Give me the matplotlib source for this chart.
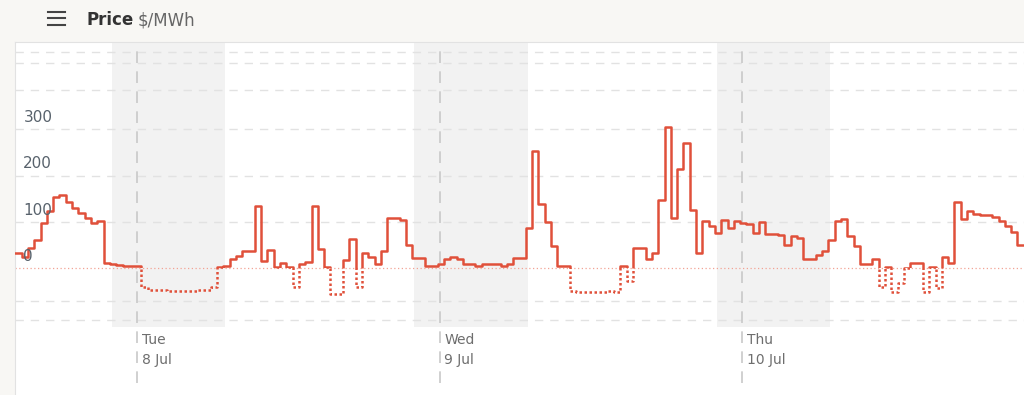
import numpy as np
import matplotlib
matplotlib.use("Agg")
import matplotlib.pyplot as plt
from matplotlib.patches import Rectangle
from matplotlib.lines import Line2D

# half-hourly price, $/MWh, first interval starts ~9.65 h before Tue 00:00
start_hour = -9.65
prices = [
    32, 24, 43, 62, 97, 123, 154, 158, 143, 129, 120, 108, 97, 102,
    12, 10, 7, 4, 4, 4, -40,
    -47, -47, -47, -48, -48, -49, -49, -48, -47, -47, -40,
    3, 4, 20, 26, 37, 37, 134, 15, 39, 3, 11, 3, -41, 9, 14, 134, 41, 3,
    -55, -55, 18, 63, -40, 33, 25, 10, 37, 108, 108, 104, 51, 22, 22,
    4, 4, 10, 20, 25, 20, 9, 9, 4, 9, 9, 9, 4, 9, 23, 23,
    86, 253, 139, 99, 48, 6, 5,
    -49, -50, -51, -50, -52, -50, -49, -50,
    4, -27, 43, 43, 20, 34, 147, 305, 108, 213, 269, 125, 33,
    101, 92, 76, 104, 86, 103, 97, 96, 77, 100, 75, 75, 72, 50, 70, 66,
    20, 20, 28, 38, 60, 103, 106, 70, 49, 10, 10, 21,
    -40, 2, -51, -32, 1, 12, 12, -51, 2, -43, 25, 12,
    143, 106, 123, 118, 115, 115, 111, 103, 91, 79, 50, 50,
]

day_hours = [0, 24, 48]
day_names = ["Tue", "Wed", "Thu"]
day_dates = ["8 Jul", "9 Jul", "10 Jul"]
night_spans = [(-2, 7), (22, 31), (46, 55)]
y_labels = [0, 100, 200, 300]
grid_levels = [466, 442, 384, 300, 200, 100, -70, -111]

line_color = "#e0503a"
x_lo, x_hi = -9.68, 70.37
y_lo, y_hi = -273, 487.7
shade_bottom = -126.5

fig = plt.figure(figsize=(10.24, 3.95), dpi=100, facecolor="#f8f7f4")
ax = fig.add_axes([15 / 1024, 0, 1 - 15 / 1024, (395 - 42) / 395])
ax.set_facecolor("white")
ax.set_xlim(x_lo, x_hi)
ax.set_ylim(y_lo, y_hi)
for side in ["right", "bottom"]:
    ax.spines[side].set_visible(False)
for side in ["left", "top"]:
    ax.spines[side].set_color("#e2e2e2")
ax.set_xticks([])
ax.set_yticks([])

frac = (shade_bottom - y_lo) / (y_hi - y_lo)
for a, b in night_spans:
    ax.axvspan(a, b, ymin=frac, ymax=1, color="#f2f2f2", lw=0, zorder=0)

for g in grid_levels:
    ax.axhline(g, color="#e2e2e2", lw=1, ls=(0, (6, 5)), zorder=1)

for d in day_hours:
    ax.axvline(d, ymin=0.035, ymax=1, color="#c8c8c8", lw=1.2,
               ls=(0, (7, 5)), zorder=1)

ax.axhline(0, color="#f2a395", lw=0.9, ls=(0, (1, 2)), zorder=2)

t = start_hour + 0.5 * np.arange(len(prices) + 1)
v = prices + [prices[-1]]

solid, = ax.step(t, v, where="post", color=line_color, lw=1.8, zorder=3)
dotted, = ax.step(t, v, where="post", color=line_color, lw=1.8,
                  ls=(0, (1, 1)), zorder=3)
upper = Rectangle((x_lo, 0), x_hi - x_lo, 1000, transform=ax.transData)
lower = Rectangle((x_lo, -1000), x_hi - x_lo, 1000, transform=ax.transData)
solid.set_clip_path(upper)
dotted.set_clip_path(lower)

for val in y_labels:
    ax.annotate(str(val), xy=(0, val), xycoords=("axes fraction", "data"),
                xytext=(6, 8.5), textcoords="offset points", va="center",
                ha="left", fontsize=11, color="#58626c", zorder=4)

for d, name, date in zip(day_hours, day_names, day_dates):
    ax.annotate(name, xy=(d, 55 / 353), xycoords=("data", "axes fraction"),
                xytext=(3.5, 0), textcoords="offset points", va="center",
                fontsize=10, color="#6e6e6e")
    ax.annotate(date, xy=(d, 35 / 353), xycoords=("data", "axes fraction"),
                xytext=(3.5, 0), textcoords="offset points", va="center",
                fontsize=10, color="#6e6e6e")

# header
for yy in [11.7, 18.3, 25]:
    fig.add_artist(Line2D([47.7 / 1024, 65 / 1024], [1 - yy / 395] * 2,
                          color="#444444", lw=1.5))
fig.text(87 / 1024, 1 - 25 / 395, "Price", fontsize=12, fontweight="bold",
         color="#333333", va="baseline")
fig.text(138 / 1024, 1 - 25 / 395, "$/MWh", fontsize=12, color="#666666",
         va="baseline")

fig.savefig("out.png", dpi=100, facecolor=fig.get_facecolor())
